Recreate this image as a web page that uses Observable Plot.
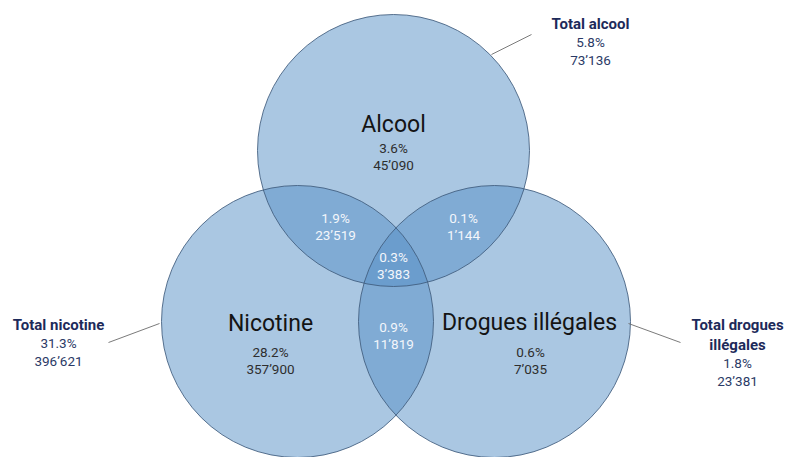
<!DOCTYPE html>
<html>
<head>
<meta charset="utf-8">
<script src="https://cdn.jsdelivr.net/npm/d3@7"></script>
<script src="https://cdn.jsdelivr.net/npm/@observablehq/plot@0.6"></script>
<style>
  html, body { margin: 0; padding: 0; background: #ffffff; }
  #chart svg { display: block; font-family: Roboto, "Noto Sans", sans-serif; }
</style>
</head>
<body>
<div id="chart"></div>
<script>
// ---- data ----
const sets = ["Alcool", "Nicotine", "Drogues illégales"];
const regionKeys = ["A", "N", "D", "AN", "AD", "ND", "AND"];
const regionPct = [3.6, 28.2, 0.6, 1.9, 0.1, 0.9, 0.3];
const regionCount = [45090, 357900, 7035, 23519, 1144, 11819, 3383];
const totalLabels = ["Total alcool", "Total nicotine", "Total drogues illégales"];
const totalPct = [5.8, 31.3, 1.8];
const totalCount = [73136, 396621, 23381];

// ---- layout (chart units = pixels of the 790x457 frame) ----
const circleLayout = {
  "Alcool": {cx: 393, cy: 150},
  "Nicotine": {cx: 297, cy: 321},
  "Drogues illégales": {cx: 494, cy: 321}
};
const radius = 136;
const nameLayout = {
  "Alcool": {x: 393, y: 124},
  "Nicotine": {x: 270, y: 323},
  "Drogues illégales": {x: 529, y: 322}
};
const regionLayout = {
  A: {x: 393, y: 156, inner: false},
  N: {x: 270, y: 360, inner: false},
  D: {x: 530, y: 360, inner: false},
  AN: {x: 335, y: 226, inner: true},
  AD: {x: 463, y: 226, inner: true},
  ND: {x: 393, y: 335, inner: true},
  AND: {x: 393, y: 265, inner: true}
};
const totalLayout = [
  {x: 590, y: 22, lines: 1, leader: [491, 54, 531, 34]},
  {x: 58, y: 323, lines: 1, leader: [159, 323, 108, 342]},
  {x: 737, y: 323, lines: 2, leader: [628, 323, 680, 342]}
];

// ---- formatting ----
const fmtCount = d3.formatLocale({decimal: ".", thousands: "\u2019", grouping: [3], currency: ["", ""]}).format(",d");
const fmtPct = v => v.toFixed(1) + "%";

// ---- tables ----
const circles = sets.map(s => ({set: s, ...circleLayout[s]}));
const names = sets.map(s => ({name: s, ...nameLayout[s]}));
const regions = regionKeys.map((k, i) => ({
  key: k,
  label: fmtPct(regionPct[i]) + "\n" + fmtCount(regionCount[i]),
  ...regionLayout[k]
}));
const TLH = 20;   // title line spacing
const VLH = 18;   // value line spacing
const totals = totalLabels.map((t, i) => {
  const L = totalLayout[i];
  const lastTitle = L.y + (L.lines - 1) * TLH;
  return {
    title: t,
    values: fmtPct(totalPct[i]) + "\n" + fmtCount(totalCount[i]),
    x: L.x,
    ty: L.y + (L.lines - 1) * TLH / 2,
    vy: lastTitle + 18.5 + VLH / 2,
    x1: L.leader[0], y1: L.leader[1], x2: L.leader[2], y2: L.leader[3]
  };
});

const chart = Plot.plot({
  width: 790,
  height: 457,
  margin: 0,
  x: {domain: [0, 790], range: [0, 790], axis: null},
  y: {domain: [0, 457], range: [0, 457], axis: null},
  style: {fontFamily: "Roboto, 'Noto Sans', sans-serif", background: "#ffffff"},
  marks: [
    Plot.dot(circles, {x: "cx", y: "cy", r: radius, fill: "#558fc5", fillOpacity: 0.5, stroke: "none"}),
    Plot.dot(circles, {x: "cx", y: "cy", r: radius, fill: "none", stroke: "#3f5c7d", strokeWidth: 1, strokeOpacity: 0.85}),
    Plot.link(totals, {x1: "x1", y1: "y1", x2: "x2", y2: "y2", stroke: "#6b6b6b", strokeWidth: 0.9}),
    Plot.text(names, {x: "x", y: "y", text: "name", fontSize: 23, fill: "#141414", fontWeight: 400}),
    Plot.text(regions.filter(d => !d.inner), {x: "x", y: "y", text: "label", fontSize: 13.5, lineHeight: 17 / 13.5, fill: "#2e2e2e"}),
    Plot.text(regions.filter(d => d.inner), {x: "x", y: "y", text: "label", fontSize: 13.5, lineHeight: 17 / 13.5, fill: "#f3f6fb"}),
    Plot.text(totals, {x: "x", y: "ty", text: "title", fontSize: 15, fontWeight: 700, fill: "#1d2a5a", lineWidth: 7.4, lineHeight: TLH / 15}),
    Plot.text(totals, {x: "x", y: "vy", text: "values", fontSize: 13.5, lineHeight: VLH / 13.5, fill: "#2b3a66"})
  ]
});
document.getElementById("chart").appendChild(chart);
</script>
</body>
</html>
